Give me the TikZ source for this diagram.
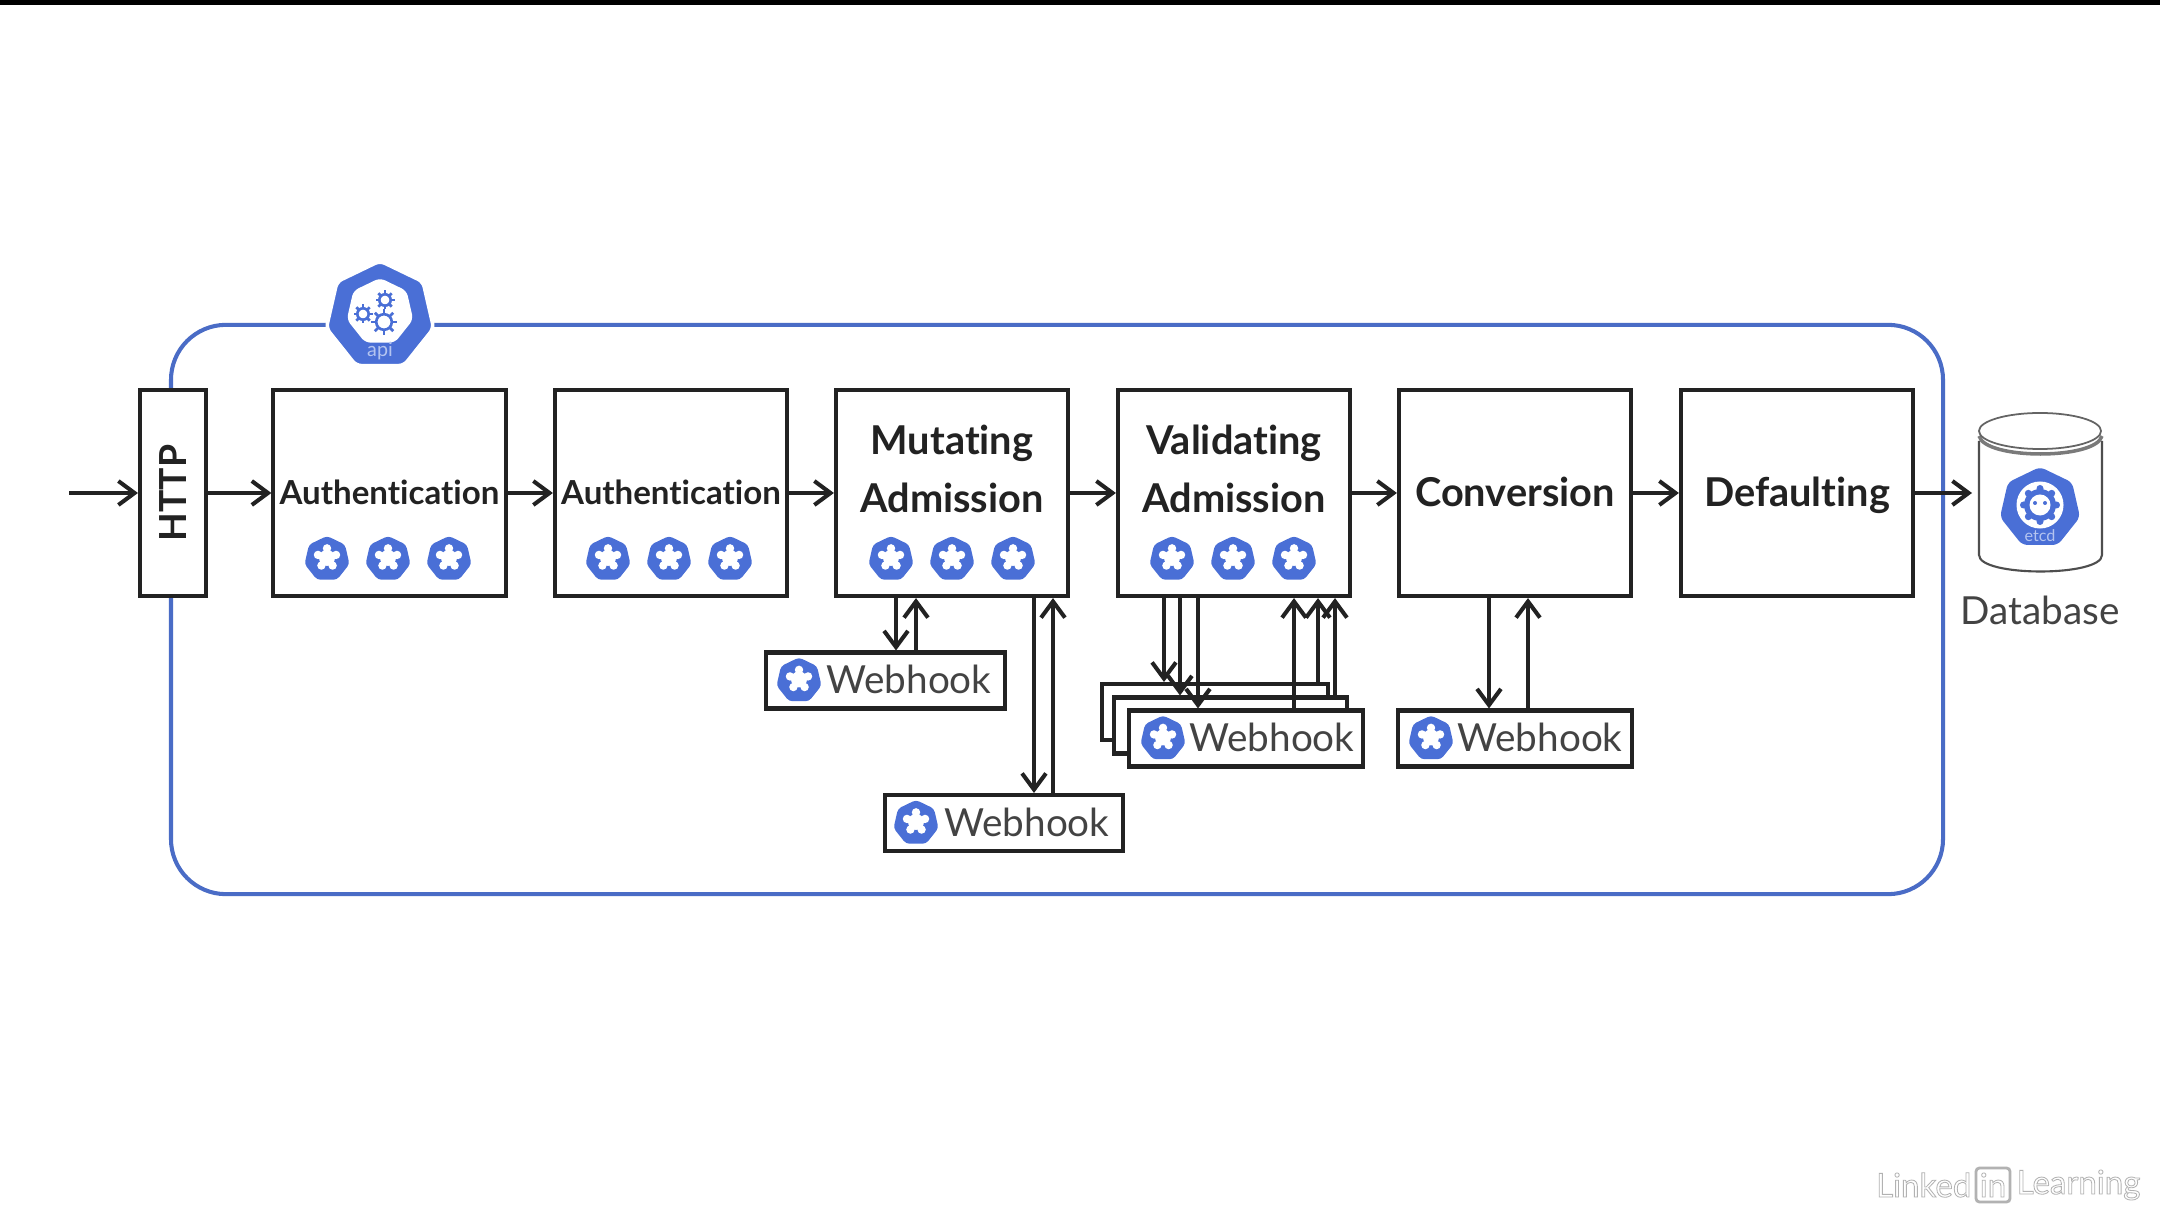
\documentclass[tikz,border=0pt]{standalone}
\usepackage{xcolor}
\usepackage{fontspec}
\setmainfont{Lato}[Ligatures=NoCommon]
\newfontfamily\markfont[FakeBold=2.5]{Lato}
\usepackage{tikz}
\usetikzlibrary{positioning, shapes, arrows.meta}

\definecolor{kubeblue}{HTML}{4A6FD6}
\definecolor{framblue}{HTML}{4A6CC6}
\definecolor{inkblack}{HTML}{222222}
\definecolor{softblue}{HTML}{B4C4F0}

\tikzset{
    flow/.style={-{Straight Barb[length=4.6pt, width=6.8pt, line width=1.15pt]}, line width=1.15pt, inkblack},
    stagebox/.style={draw=inkblack, fill=white, line width=1.15pt, minimum width=2.32cm, minimum height=2.06cm, inner sep=0pt, font=\fontsize{11.3}{16.4}\selectfont\bfseries, text=inkblack, align=center},
    stagetext/.style={inner sep=0pt, align=center, text=inkblack, font=\fontsize{11.3}{16.4}\selectfont\bfseries},
    authtext/.style={font=\fontsize{9.4}{10}\selectfont\bfseries},
    hookbox/.style={draw=inkblack, fill=white, line width=1.15pt, minimum width=2.38cm, minimum height=0.56cm, inner sep=0pt},
    hooktext/.style={inner sep=0pt, text=inkblack!85, font=\fontsize{11}{12}\selectfont},
    plugin/.style={regular polygon, regular polygon sides=7, fill=kubeblue, rounded corners=1pt, inner sep=0pt, minimum size=0.46cm,
        path picture={
            \fill[white] (path picture bounding box.center) circle (0.08cm);
            \foreach \a in {90, 162, 234, 306, 18}
            \fill[white] (path picture bounding box.center) ++(\a:0.095cm) circle (0.042cm);
        }},
    hub/.style={regular polygon, regular polygon sides=7, fill=kubeblue, rounded corners=1.5pt, inner sep=0pt},
    pics/gear/.style={code={
        \draw[kubeblue, line width=0.75pt] (0,0) circle (#1*0.6);
        \foreach \a in {0, 45, ..., 315}
        \draw[kubeblue, line width=0.8pt] (\a:#1*0.006cm) -- (\a:#1*0.01cm);
    }},
}

\begin{document}
\begin{tikzpicture}[x=0.01cm, y=-0.01cm]
        \useasboundingbox (0,0) rectangle (2160,1228);
        \fill[white] (0,0) rectangle (2160,1228);
        \fill[black] (0,0) rectangle (2160,5);

        \node[draw=framblue, line width=1.15pt, rounded corners=0.55cm, minimum width=17.71cm, minimum height=5.69cm] (frame) at (1057,609.5) {};

        \node[hub, draw=white, line width=1pt, minimum size=1.1cm] (api) at (380,316) {};
        \node[regular polygon, regular polygon sides=7, fill=white, rounded corners=1.5pt, inner sep=0pt, minimum size=0.68cm] (apiinner) at (380,312) {};
        \path (384,322) pic {gear=13} (385,300) pic {gear=9.5} (363,314) pic {gear=9.5};
        \node[inner sep=0pt, text=softblue, font=\fontsize{5.6}{6}\selectfont] (apitext) at (380,351) {api};

        \node[stagebox, minimum width=0.66cm, font=\fontsize{10.6}{12}\selectfont\bfseries] (http) at (173,493) {\rotatebox{90}{HTTP}};
        \node[stagebox] (authone) at (389.5,493) {};
        \node[stagebox] (authtwo) at (671,493) {};
        \node[stagebox] (mutating) at (952,493) {};
        \node[stagebox] (validating) at (1234,493) {};
        \node[stagebox] (conversion) at (1515,493) {};
        \node[stagebox] (defaulting) at (1797,493) {};

        \node[stagetext, authtext] (authonetext) at (389.5,492) {Authentication};
        \node[stagetext, authtext] (authtwotext) at (671,492) {Authentication};
        \node[stagetext] (mutatingtext) at (952,469) {Mutating\\Admission};
        \node[stagetext] (validatingtext) at (1234,469) {Validating\\Admission};
        \node[stagetext, anchor=base] (conversiontext) at (1515,507) {Conversion};
        \node[stagetext, anchor=base] (defaultingtext) at (1797,507) {Defaulting};

        \foreach \n/\x in {authone/388, authtwo/669, mutating/952, validating/1233} {
            \node[plugin] (\n a) at (\x-61,559) {};
            \node[plugin] (\n b) at (\x,559) {};
            \node[plugin] (\n c) at (\x+61,559) {};
        }

        \coordinate (entry) at (69,493);
        \coordinate (dbin) at (1972,493);
        \draw[flow] (entry) -- (http);
        \draw[flow] (http) -- (authone);
        \draw[flow] (authone) -- (authtwo);
        \draw[flow] (authtwo) -- (mutating);
        \draw[flow] (mutating) -- (validating);
        \draw[flow] (validating) -- (conversion);
        \draw[flow] (conversion) -- (defaulting);
        \draw[flow] (defaulting) -- (dbin);

        \node[hookbox, minimum width=2.26cm] (stackback) at (1215,712) {};
        \node[hookbox, minimum width=2.33cm] (stackmid) at (1230.5,725.5) {};

        \foreach \n/\x/\y/\w/\i/\t in {hookone/885.5/680.5/2.38/86.5/23.5, hooktwo/1004/823/2.38/88/23, hookthree/1246/738.5/2.34/83/26, hookfour/1515/738.5/2.34/84/25} {
            \node[hookbox, minimum width=\w cm] (\n) at (\x,\y) {};
            \node[plugin] (\n icon) at (\x-\i,\y) {};
            \node[hooktext] (\n text) at (\x+\t,\y-1) {Webhook};
        }

        \draw[flow] (896,0 |- mutating.south) -- (896,0 |- hookone.north);
        \draw[flow] (1034,0 |- mutating.south) -- (1034,0 |- hooktwo.north);
        \draw[flow] (916,0 |- hookone.north) -- (916,0 |- mutating.south);
        \draw[flow] (1053,0 |- hooktwo.north) -- (1053,0 |- mutating.south);
        \draw[flow] (1164,0 |- validating.south) -- (1164,0 |- stackback.north);
        \draw[flow] (1180,0 |- validating.south) -- (1180,0 |- stackmid.north);
        \draw[flow] (1198,0 |- validating.south) -- (1198,0 |- hookthree.north);
        \draw[flow] (1294,0 |- hookthree.north) -- (1294,0 |- validating.south);
        \draw[flow] (1318,0 |- stackback.north) -- (1318,0 |- validating.south);
        \draw[flow] (1335,0 |- stackmid.north) -- (1335,0 |- validating.south);
        \draw[flow] (1489,0 |- conversion.south) -- (1489,0 |- hookfour.north);
        \draw[flow] (1528,0 |- hookfour.north) -- (1528,0 |- conversion.south);

        \draw[inkblack!80, line width=0.6pt] (1979,441) -- (1979,555) .. controls (1979,577) and (2102,577) .. (2102,555) -- (2102,441);
        \draw[inkblack!60, line width=1pt] (1979,436) .. controls (1985,460) and (2096,460) .. (2102,436);
        \node[ellipse, draw=inkblack!70, fill=white, line width=0.5pt, minimum width=1.22cm, minimum height=0.36cm, inner sep=0pt] (dbtop) at (2040,431) {};

        \node[hub, minimum size=0.82cm] (etcd) at (2040,508) {};
        \node[circle, fill=white, inner sep=0pt, minimum size=0.47cm] (etcdring) at (2040,505) {};
        \node[circle, fill=kubeblue, inner sep=0pt, minimum size=0.32cm] (etcdgear) at (2040,505) {};
        \foreach \a in {0, 45, ..., 315}
        \fill[kubeblue] (2040,505) ++(\a:0.165cm) circle (0.035cm);
        \node[circle, fill=white, inner sep=0pt, minimum size=0.21cm] (etcdface) at (2040,505) {};
        \fill[kubeblue] (2035,503) circle (2) (2045,503) circle (2);
        \node[inner sep=0pt, text=softblue, font=\fontsize{4.6}{5}\selectfont] (etcdtext) at (2040,536) {etcd};

        \node[hooktext] (database) at (2040,610) {Database};

        \node[inner sep=0pt, anchor=east, font=\markfont\fontsize{9.4}{10}\selectfont] (marklinked) at (1972,1185) {\special{pdf:bcolor [1] [0.7]}Linked\special{pdf:ecolor}};
        \node[draw=black!30, fill=white, rounded corners=1pt, line width=0.8pt, inner sep=1pt, font=\markfont\fontsize{9.4}{10}\selectfont, minimum size=0.34cm] (markin) at (1993,1185) {\special{pdf:bcolor [1] [0.7]}in\special{pdf:ecolor}};
        \node[inner sep=0pt, anchor=west, font=\markfont\fontsize{9.4}{10}\selectfont] (marklearning) at (2016,1185) {\special{pdf:bcolor [1] [0.7]}Learning\special{pdf:ecolor}};
    \end{tikzpicture}
\end{document}
